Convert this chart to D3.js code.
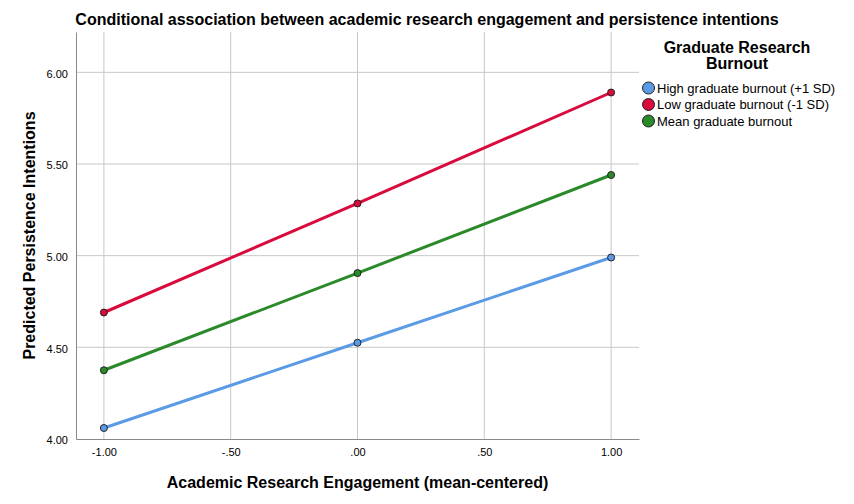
<!DOCTYPE html>
<html>
<head>
<meta charset="utf-8">
<script src="https://cdn.jsdelivr.net/npm/d3@7"></script>
<style>
  body { margin: 0; background: #fff; }
  svg { font-family: "Liberation Sans", Arial, sans-serif; }
  .tick text { font-size: 11px; fill: #000; }
</style>
</head>
<body>
<div id="chart"></div>
<script>
// data
const xValues = [-1, 0, 1];
const seriesNames = ["High graduate burnout (+1 SD)", "Low graduate burnout (-1 SD)", "Mean graduate burnout"];
const highBurnout = [4.06, 4.525, 4.99];
const lowBurnout = [4.69, 5.285, 5.89];
const meanBurnout = [4.375, 4.905, 5.44];
const seriesColors = ["#5b9be6", "#d90a3c", "#2a8a2a"];
const xTicks = [-1, -0.5, 0, 0.5, 1];
const yTicks = [4, 4.5, 5, 5.5, 6];

const width = 854, height = 504;
const margin = { top: 32, right: 215, bottom: 65, left: 76 };
const innerW = width - margin.left - margin.right;
const innerH = height - margin.top - margin.bottom;

const svg = d3.select("#chart").append("svg")
  .attr("width", width)
  .attr("height", height);

const g = svg.append("g").attr("transform", `translate(${margin.left},${margin.top})`);

const x = d3.scaleLinear().domain([-1.11, 1.11]).range([0, innerW]);
const y = d3.scaleLinear().domain([4, 6.22]).range([innerH, 0]);

// format like SPSS: -1.00, -.50, .00, .50, 1.00
function fmt(v) {
  let s = v.toFixed(2);
  return s.replace(/^(-?)0\./, "$1.");
}

// gridlines
g.append("g").selectAll("line")
  .data(xTicks).join("line")
  .attr("x1", d => x(d)).attr("x2", d => x(d))
  .attr("y1", 0).attr("y2", innerH)
  .attr("stroke", "#c8c8c8").attr("stroke-width", 1);

g.append("g").selectAll("line")
  .data(yTicks.filter(d => d > 4)).join("line")
  .attr("x1", 0).attr("x2", innerW)
  .attr("y1", d => y(d)).attr("y2", d => y(d))
  .attr("stroke", "#c8c8c8").attr("stroke-width", 1);

// axes
const xAxis = g.append("g")
  .attr("transform", `translate(0,${innerH})`)
  .call(d3.axisBottom(x).tickValues(xTicks).tickFormat(fmt).tickSize(0).tickPadding(9));
xAxis.select(".domain").attr("stroke", "#888");

const yAxis = g.append("g")
  .call(d3.axisLeft(y).tickValues(yTicks).tickFormat(fmt).tickSize(0).tickPadding(8));
yAxis.select(".domain").attr("stroke", "#888");
yAxis.selectAll(".tick text").attr("dy", "0.45em");

// lines and points
const series = [highBurnout, lowBurnout, meanBurnout];
const line = d3.line().x((d, i) => x(xValues[i])).y(d => y(d));

series.forEach((vals, k) => {
  g.append("path")
    .datum(vals)
    .attr("d", line)
    .attr("fill", "none")
    .attr("stroke", seriesColors[k])
    .attr("stroke-width", 3);
});
series.forEach((vals, k) => {
  g.append("g").selectAll("circle")
    .data(vals).join("circle")
    .attr("cx", (d, i) => x(xValues[i]))
    .attr("cy", d => y(d))
    .attr("r", 3.5)
    .attr("fill", seriesColors[k])
    .attr("stroke", "#222")
    .attr("stroke-width", 1);
});

// title
svg.append("text")
  .attr("x", 427).attr("y", 25)
  .attr("text-anchor", "middle")
  .attr("font-size", 16).attr("font-weight", "bold")
  .text("Conditional association between academic research engagement and persistence intentions");

// axis titles
svg.append("text")
  .attr("x", margin.left + innerW / 2).attr("y", 488)
  .attr("text-anchor", "middle")
  .attr("font-size", 16).attr("font-weight", "bold")
  .text("Academic Research Engagement (mean-centered)");

svg.append("text")
  .attr("transform", `translate(35,${margin.top + innerH / 2}) rotate(-90)`)
  .attr("text-anchor", "middle")
  .attr("font-size", 16).attr("font-weight", "bold")
  .text("Predicted Persistence Intentions");

// legend
const legend = svg.append("g").attr("transform", "translate(646,0)");
legend.append("text")
  .attr("x", 91).attr("y", 53)
  .attr("text-anchor", "middle")
  .attr("font-size", 16).attr("font-weight", "bold")
  .text("Graduate Research");
legend.append("text")
  .attr("x", 91).attr("y", 69)
  .attr("text-anchor", "middle")
  .attr("font-size", 16).attr("font-weight", "bold")
  .text("Burnout");

const items = legend.selectAll("g")
  .data(seriesNames).join("g")
  .attr("transform", (d, i) => `translate(0,${88 + i * 16.5})`);
items.append("circle")
  .attr("cx", 2.5).attr("cy", 0).attr("r", 6)
  .attr("fill", (d, i) => seriesColors[i])
  .attr("stroke", "#222").attr("stroke-width", 1);
items.append("text")
  .attr("x", 11).attr("y", 4.5)
  .attr("font-size", 13)
  .text(d => d);
</script>
</body>
</html>
